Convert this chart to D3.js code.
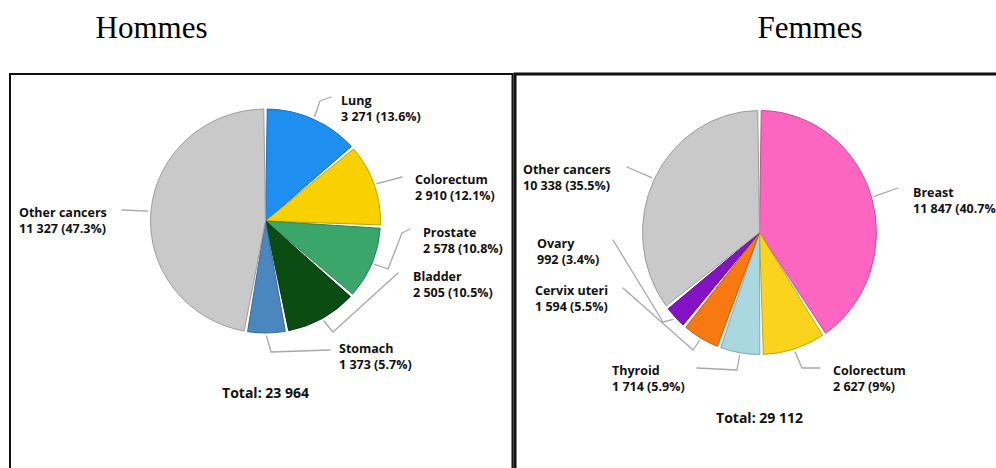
<!DOCTYPE html>
<html>
<head>
<meta charset="utf-8">
<script src="https://cdn.jsdelivr.net/npm/d3@7"></script>
<style>
  html, body { margin: 0; padding: 0; background: #ffffff; }
  svg { display: block; }
  .title { font-family: "Liberation Serif", "Times New Roman", serif; font-size: 31px; fill: #000; }
  .lbl { font-family: "Open Sans", "Liberation Sans", sans-serif; font-weight: 700; font-size: 12.5px; fill: #111; }
  .total { font-family: "Open Sans", "Liberation Sans", sans-serif; font-weight: 700; font-size: 14px; fill: #111; }
</style>
</head>
<body>
<script>
// ---- data ----
const panelTitles = ["Hommes", "Femmes"];

const maleCategories = ["Lung", "Colorectum", "Prostate", "Bladder", "Stomach", "Other cancers"];
const maleValues = [3271, 2910, 2578, 2505, 1373, 11327];
const maleColors = ["#1f8ef1", "#f9d000", "#3aa66a", "#0b4c12", "#4b87bf", "#c9c9c9"];

const femaleCategories = ["Breast", "Colorectum", "Thyroid", "Cervix uteri", "Ovary", "Other cancers"];
const femaleValues = [11847, 2627, 1714, 1594, 992, 10338];
const femaleColors = ["#fd66c0", "#f9d31c", "#a9d8e1", "#f7790f", "#8512c4", "#c9c9c9"];

// ---- layout (label anchors and leader elbows, relative to pie centre) ----
const maleLayout = [
  { lx: 75.5,   ly: -116, pts: [[54.5, -120], [65.5, -124]] },
  { lx: 149.5,  ly: -37,  pts: [[136.5, -44]] },
  { lx: 157.5,  ly: 16,   pts: [[122.5, 48], [136.5, 12], [144.5, 8]] },
  { lx: 147.5,  ly: 60,   pts: [[67.5, 111], [132.5, 52]] },
  { lx: 73.5,   ly: 132,  pts: [[5.5, 131], [64.5, 129]] },
  { lx: -246.5, ly: -4,   pts: [[-143.5, -11]] }
];
const femaleLayout = [
  { lx: 153.5,  ly: -35.5, pts: [[138.5, -44.5]] },
  { lx: 73.5,   ly: 142.5, pts: [[42.5, 135.5], [60.5, 135.5]] },
  { lx: -147.5, ly: 142.5, pts: [[-22.5, 137.5], [-62.5, 135.5]] },
  { lx: -224.5, ly: 62.5,  pts: [[-66.5, 117.5], [-136.5, 55.5]] },
  { lx: -222.5, ly: 15.5,  pts: [[-96.5, 89.5], [-146.5, 7.5]] },
  { lx: -236.5, ly: -58.5, pts: [[-132.5, -65.5]] }
];

const W = 996, H = 468;
const svg = d3.select("body").append("svg").attr("width", W).attr("height", H);
svg.append("rect").attr("width", W).attr("height", H).attr("fill", "#fff");

// titles
const titleX = [151.5, 810];
panelTitles.forEach((t, i) => {
  svg.append("text").attr("class", "title").attr("x", titleX[i]).attr("y", 38)
    .attr("text-anchor", "middle").text(t);
});

// panel frames
svg.append("rect").attr("x", 10).attr("y", 74).attr("width", 502.5).attr("height", 420)
  .attr("fill", "none").attr("stroke", "#111").attr("stroke-width", 2);
svg.append("rect").attr("x", 515).attr("y", 74).attr("width", 500).attr("height", 420)
  .attr("fill", "none").attr("stroke", "#111").attr("stroke-width", 3);

const locale = d3.formatLocale({ decimal: ".", thousands: " ", grouping: [3], currency: ["", ""] });
const fmtN = locale.format(",d");
const fmtP = d3.format(".1~f");

function drawPie(cfg) {
  const { cats, vals, colors, layout, cx, cy, r, sx, sy, totalY } = cfg;
  const total = d3.sum(vals);
  const pie = d3.pie().sort(null).value(d => d)(vals);
  const arc = d3.arc().innerRadius(0).outerRadius(r).padAngle(0.03).padRadius(r);

  const g = svg.append("g").attr("transform", `translate(${cx},${cy}) scale(${sx},${sy})`);
  g.selectAll("path").data(pie).join("path")
    .attr("d", arc)
    .attr("fill", (d, i) => colors[i])
    .attr("stroke", (d, i) => d3.color(colors[i]).darker(0.7))
    .attr("stroke-width", 1)
    .attr("vector-effect", "non-scaling-stroke");

  const lg = svg.append("g").attr("transform", `translate(${cx},${cy})`);
  const line = d3.line();
  pie.forEach((d, i) => {
    const a = (d.startAngle + d.endAngle) / 2;
    const start = [Math.sin(a) * (r * sx + 3), -Math.cos(a) * (r * sy + 3)];
    const L = layout[i];
    lg.append("path").attr("d", line([start, ...L.pts]))
      .attr("fill", "none").attr("stroke", "#a8a8a8").attr("stroke-width", 1.3)
      .attr("stroke-linejoin", "round").attr("stroke-linecap", "round");
    const t = lg.append("text").attr("class", "lbl").attr("x", L.lx).attr("y", L.ly);
    t.append("tspan").attr("x", L.lx).attr("dy", 0).text(cats[i]);
    t.append("tspan").attr("x", L.lx).attr("dy", 16)
      .text(`${fmtN(vals[i])} (${fmtP(vals[i] / total * 100)}%)`);
  });

  svg.append("text").attr("class", "total").attr("x", cx).attr("y", totalY)
    .attr("text-anchor", "middle").text(`Total: ${fmtN(total)}`);
}

drawPie({ cats: maleCategories, vals: maleValues, colors: maleColors, layout: maleLayout,
  cx: 265.5, cy: 221, r: 112, sx: 115 / 112, sy: 1, totalY: 398 });
drawPie({ cats: femaleCategories, vals: femaleValues, colors: femaleColors, layout: femaleLayout,
  cx: 759.5, cy: 232.5, r: 117, sx: 1, sy: 122 / 117, totalY: 423 });
</script>
</body>
</html>
